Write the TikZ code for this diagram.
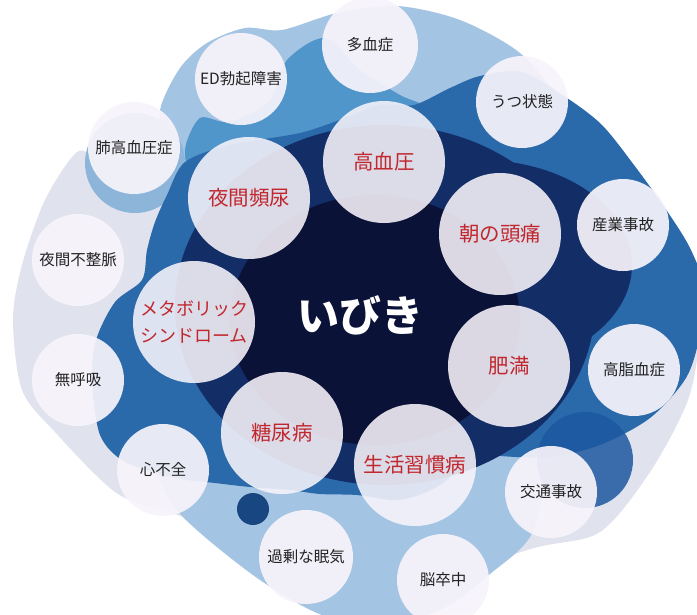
\documentclass[tikz,border=0pt]{standalone}
\usepackage{fontspec}
\newfontfamily\cjk{Noto Sans CJK JP}
\definecolor{pale}{HTML}{E0E3EE}
\definecolor{lb}{HTML}{A4C4E3}
\definecolor{lbc}{HTML}{8DB5DA}
\definecolor{ml}{HTML}{5096CB}
\definecolor{mid}{HTML}{2A69AA}
\definecolor{navy}{HTML}{132E66}
\definecolor{deep}{HTML}{0B1238}
\definecolor{dk}{HTML}{1D58A0}
\definecolor{bubble}{HTML}{F8F4FB}
\definecolor{lab}{HTML}{C1272D}
\definecolor{ink}{HTML}{222222}
\tikzset{
  bigc/.style={circle, fill=bubble, fill opacity=0.88, text opacity=1, minimum size=122pt, inner sep=0pt, text=lab, font=\cjk\fontsize{20.5}{24}\selectfont},
  smallc/.style={circle, fill=bubble, fill opacity=0.92, text opacity=1, minimum size=92pt, inner sep=0pt, text=ink, font=\cjk\fontsize{15.5}{18}\selectfont},
  core/.style={text=white, font=\cjk\bfseries\fontsize{42}{50}\selectfont}
}
\begin{document}
\begin{tikzpicture}[x=1pt,y=-1pt]
\useasboundingbox (0,0) rectangle (697,614);
\fill[white] (0,0) rectangle (697,614);
\clip (0,0) rectangle (697,614);
% pale outer region
\fill[pale] plot[smooth cycle, tension=0.5] coordinates {(77,152) (45,200) (22,265) (13,320) (22,390) (55,432) (118,494) (185,518) (250,555) (400,585) (534,548) (600,532) (650,472) (688,400) (699,335) (690,280) (600,150) (400,130) (175,150) (140,165) (100,160)};
% light blue region
\fill[lb] plot[smooth cycle, tension=0.5] coordinates {(160,110) (180,68) (207,43) (245,28) (282,30) (337,13) (397,6) (460,20) (520,53) (565,105) (610,165) (650,270) (645,380) (590,432) (553,470) (530,537) (490,574) (450,605) (400,622) (330,618) (260,580) (183,517) (150,465) (120,420) (135,330) (160,250) (172,195) (165,150)};
% crescent behind lung circle
\fill[lbc] (135,163) circle[radius=50];
% medium-light band
\fill[ml] plot[smooth cycle, tension=0.5] coordinates {(185,150) (200,118) (230,122) (270,100) (287,60) (325,38) (360,70) (400,95) (430,110) (420,140) (300,145) (200,170)};
% medium blue region
\fill[mid] plot[smooth cycle, tension=0.5] coordinates {(414,105) (450,88) (480,76) (522,72) (567,98) (602,125) (634,165) (665,208) (690,248) (705,290) (700,335) (686,378) (650,418) (600,445) (550,457) (500,456) (478,452) (440,485) (400,500) (357,495) (320,494) (290,490) (250,487) (215,483) (175,478) (125,462) (100,435) (92,380) (96,340) (115,302) (142,280) (147,250) (155,222) (167,195) (185,162) (230,145) (300,133) (345,118) (380,105)};
% navy
\fill[navy] (385,305) ellipse[x radius=210, y radius=180];
\fill[navy] (480,265) ellipse[x radius=152, y radius=105];
% deep core
\fill[deep] (375,320) ellipse[x radius=145, y radius=125];
% accent circles
\fill[dk, opacity=0.85] (585,460) circle[radius=48];
\fill[dk!80!black] (253,509) circle[radius=16];
% small bubbles
\node[smallc, minimum size=96pt] (takes) at (370,45) {多血症};
\node[smallc] (ed) at (241,79) {ED勃起障害};
\node[smallc] (utsu) at (522,102) {うつ状態};
\node[smallc] (hai) at (134,148) {肺高血圧症};
\node[smallc] (fusei) at (78,260) {夜間不整脈};
\node[smallc] (mukokyu) at (78,380) {無呼吸};
\node[smallc] (shinfu) at (163,470) {心不全};
\node[smallc, minimum size=94pt] (kajo) at (306,557) {過剰な眠気};
\node[smallc] (nou) at (443,580) {脳卒中};
\node[smallc] (kotsu) at (551,492) {交通事故};
\node[smallc] (koshi) at (634,370) {高脂血症};
\node[smallc] (sangyo) at (623,225) {産業事故};
% large bubbles
\node[bigc] (koketsu) at (384,162) {高血圧};
\node[bigc] (hinnyo) at (249,198) {夜間頻尿};
\node[bigc] (asa) at (500,234) {朝の頭痛};
\node[bigc, align=center, font=\cjk\fontsize{18}{27}\selectfont] (metabo) at (194,322) {メタボリック\\シンドローム};
\node[bigc] (himan) at (509,366) {肥満};
\node[bigc] (tonyo) at (282,433) {糖尿病};
\node[bigc] (seikatsu) at (415,465) {生活習慣病};
% centre word
\node[core] (ibiki) at (360,315) {いびき};
\end{tikzpicture}
\end{document}
